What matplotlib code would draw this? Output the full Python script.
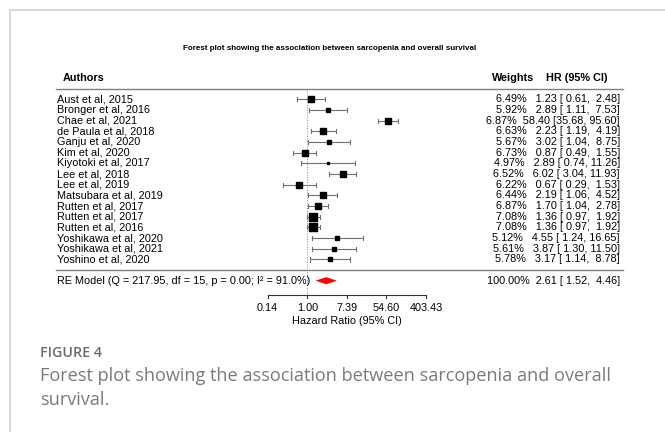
import matplotlib
matplotlib.use("Agg")
import matplotlib.pyplot as plt
from matplotlib.lines import Line2D
import numpy as np

# study data
authors = ["Aust et al, 2015", "Bronger et al, 2016", "Chae et al, 2021",
           "de Paula et al, 2018", "Ganju et al, 2020", "Kim et al, 2020",
           "Kiyotoki et al, 2017", "Lee et al, 2018", "Lee et al, 2019",
           "Matsubara et al, 2019", "Rutten et al, 2017", "Rutten et al, 2017",
           "Rutten et al, 2016", "Yoshikawa et al, 2020", "Yoshikawa et al, 2021",
           "Yoshino et al, 2020"]
weights = [6.49, 5.92, 6.87, 6.63, 5.67, 6.73, 4.97, 6.52, 6.22, 6.44,
           6.87, 7.08, 7.08, 5.12, 5.61, 5.78]
hr = [1.23, 2.89, 58.40, 2.23, 3.02, 0.87, 2.89, 6.02, 0.67, 2.19,
      1.70, 1.36, 1.36, 4.55, 3.87, 3.17]
ci_low = [0.61, 1.11, 35.68, 1.19, 1.04, 0.49, 0.74, 3.04, 0.29, 1.06,
          1.04, 0.97, 0.97, 1.24, 1.30, 1.14]
ci_high = [2.48, 7.53, 95.60, 4.19, 8.75, 1.55, 11.26, 11.93, 1.53, 4.52,
           2.78, 1.92, 1.92, 16.65, 11.50, 8.78]
re_hr, re_low, re_high = 2.61, 1.52, 4.46
re_label = "RE Model (Q = 217.95, df = 15, p = 0.00; I\u00b2 = 91.0%)"
tick_vals = [-2, 0, 2, 4, 6]

BASE = "Liberation Sans"

fig = plt.figure(figsize=(6.65, 4.32), dpi=100)
ax = fig.add_axes([0, 0, 1, 1])
ax.set_xlim(-15.52, 18.07)
ax.set_ylim(-15.18, 25.31)
ax.axis("off")

k = len(authors)
ys = np.arange(k, 0, -1)
lhr = np.log(hr)
llo = np.log(ci_low)
lhi = np.log(ci_high)

# box sizes scaled by weight
w = np.array(weights)
psize = 2.0 + (w - w.min()) / (w.max() - w.min()) * 3.2

fs = 7.8
x_left, x_hr = -12.64, 15.79
ci_col = "#707070"


def annot(wt, est, lo, hi):
    # weight and estimate in one right-aligned string, padded like metafor
    return f"{wt:.2f}%  {est:5.2f} [{lo:5.2f}, {hi:5.2f}]"


for i in range(k):
    y = ys[i]
    ax.plot([llo[i], lhi[i]], [y, y], color=ci_col, lw=0.8, zorder=2)
    for xe in (llo[i], lhi[i]):
        ax.plot([xe, xe], [y - 0.2, y + 0.2], color=ci_col, lw=0.8, zorder=2)
    ax.plot(lhr[i], y, marker="s", ms=psize[i], color="black", zorder=3, ls="none")
    ax.text(x_left, y, authors[i], ha="left", va="center", fontsize=fs, family=BASE)
    ax.text(x_hr, y, annot(weights[i], hr[i], ci_low[i], ci_high[i]),
            ha="right", va="center", fontsize=fs, family=BASE)

# header
ax.text(x_left + 0.3, 18, "Authors", ha="left", va="center", fontsize=fs, weight="bold", family=BASE)
ax.text(10.39, 18, "Weights", ha="center", va="center", fontsize=fs, weight="bold", family=BASE)
ax.text(13.6, 18, "HR (95% CI)", ha="center", va="center", fontsize=fs, weight="bold", family=BASE)
ax.plot([-12.69, 15.94], [17, 17], color="#808080", lw=1.0)
ax.plot([-12.69, 15.94], [0, 0], color="#808080", lw=1.0)
ax.plot([0, 0], [17, -2.2], color="#808080", lw=0.7, ls=":")

# summary
ax.text(x_left, -1, re_label, ha="left", va="center", fontsize=fs, family=BASE)
lre, llo_re, lhi_re = np.log(re_hr), np.log(re_low), np.log(re_high)
ax.fill([llo_re, lre, lhi_re, lre], [-1, -1.33, -1, -0.67], color="red", lw=0)
ax.text(x_hr, -1, annot(100.0, re_hr, re_low, re_high).replace("  ", " ", 1),
        ha="right", va="center", fontsize=fs, family=BASE)

# x axis
ya = -2.3
ax.plot([tick_vals[0], tick_vals[-1]], [ya, ya], color="#333333", lw=0.8)
for t in tick_vals:
    ax.plot([t, t], [ya, ya - 0.35], color="#333333", lw=0.8)
    ax.text(t, -3.6, f"{np.exp(t):.2f}", ha="center", va="center", fontsize=fs, family=BASE)
ax.text(2, -4.75, "Hazard Ratio (95% CI)", ha="center", va="center", fontsize=fs, family=BASE)

# title
ax.text(1.15, 20.75, "Forest plot showing the association between sarcopenia and overall survival",
        ha="center", va="center", fontsize=5.75, weight="bold", family=BASE)

# frame of the figure panel
fig.add_artist(Line2D([10 / 665, 10 / 665], [0, 1 - 10 / 432], color="#d3d3d3", lw=1.2))
fig.add_artist(Line2D([10 / 665, 1], [1 - 10 / 432, 1 - 10 / 432], color="#d3d3d3", lw=1.2))

# caption
fig.text(40 / 665, 1 - 357 / 432, "FIGURE 4", fontsize=10.3, color="#6b6b6b",
         family="Open Sans", weight="semibold", va="baseline")
fig.text(40 / 665, 1 - 381 / 432,
         "Forest plot showing the association between sarcopenia and overall",
         fontsize=13.1, color="#7a7a7a", family="Open Sans", va="baseline")
fig.text(40 / 665, 1 - 405 / 432, "survival.", fontsize=13.1, color="#7a7a7a",
         family="Open Sans", va="baseline")

fig.savefig("out.png", dpi=100)
